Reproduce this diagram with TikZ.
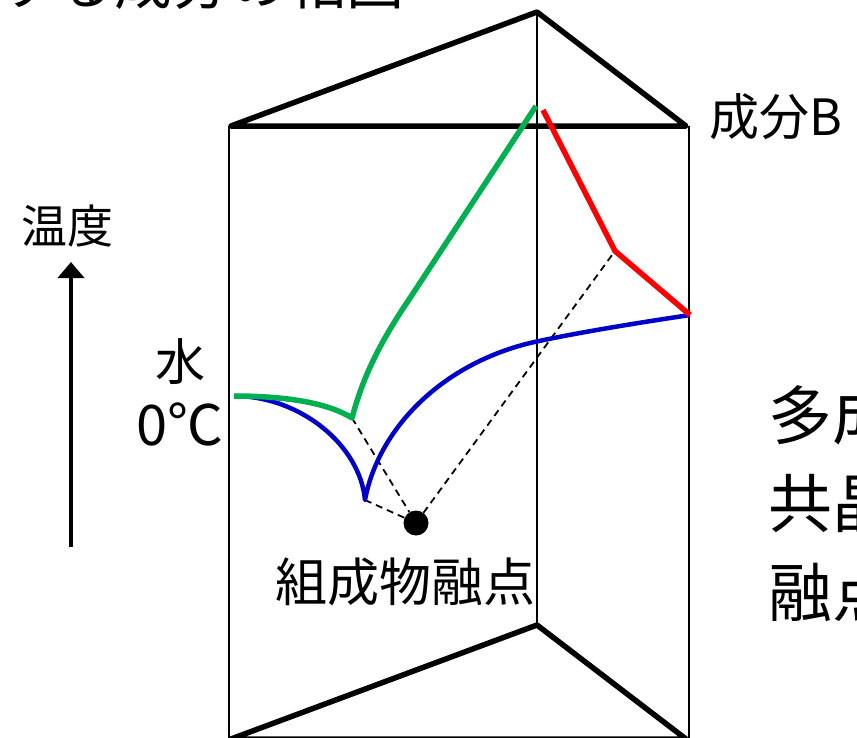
\documentclass[tikz,border=0pt]{standalone}
\usepackage{fontspec}
\setmainfont{Noto Sans CJK JP}
\usetikzlibrary{arrows.meta}
\definecolor{cgreen}{RGB}{0,176,80}
\definecolor{cblue}{RGB}{0,0,200}
\definecolor{cred}{RGB}{255,0,0}
\begin{document}
\begin{tikzpicture}[x=1pt,y=-1pt,
  frame/.style={line width=5.5pt,line cap=round,line join=round},
  edge/.style={line width=2pt},
  liq/.style={line width=4.5pt,line join=round},
  guide/.style={line width=1.8pt,dash pattern=on 7pt off 5pt},
  lbl/.style={inner sep=0pt,anchor=base west}]
\useasboundingbox (0,0) rectangle (857,737);
% prism corners
\coordinate (TL) at (231,126);
\coordinate (TR) at (686,126);
\coordinate (TB) at (537,12);
\coordinate (BL) at (231,739);
\coordinate (BR) at (686,739);
\coordinate (BB) at (537,625);
% vertical edges
\draw[edge] (229,126) -- (229,745);
\draw[edge] (689,126) -- (689,745);
\draw[edge] (TB) -- (BB);
% triangles
\draw[frame] (TL) -- (TB) -- (TR) -- cycle;
\draw[frame] (BL) -- (BB) -- (BR) -- cycle;
% key points
\coordinate (W) at (234,396);
\coordinate (GE) at (352,418);
\coordinate (BE) at (365,500);
\coordinate (GT) at (536,106);
\coordinate (RT) at (543,110);
\coordinate (RK) at (615,251);
\coordinate (RE) at (690,315);
\node[circle,fill=black,minimum size=25pt,inner sep=0pt] (E) at (416,523) {};
% dashed guides
\draw[guide] (GE) -- (E);
\draw[guide] (BE) -- (E);
\draw[guide] (E) -- (RK);
% liquidus curves
\draw[liq,cblue] (W) .. controls (300,396) and (360,445) .. (BE)
  .. controls (378,430) and (440,365) .. (530,343)
  .. controls (570,334) and (630,324) .. (RE);
\draw[liq,cgreen,line width=5.5pt] (W) .. controls (290,396) and (330,404) .. (GE)
  .. controls (362,380) and (378,345) .. (410,298) -- (GT);
\draw[liq,cred,line width=5.5pt] (RT) -- (RK) -- (RE);
% temperature arrow
\coordinate (A0) at (71,547);
\coordinate (A1) at (71,262);
\draw[line width=4pt,-{Triangle[width=26pt,length=16pt]}] (A0) -- (A1);
% labels
\node[lbl,font=\fontsize{58}{60}\selectfont] (title) at (-2,4) {する成分の相図};
\node[lbl,font=\fontsize{46}{50}\selectfont] (temp) at (21,243) {温度};
\node[inner sep=0pt,anchor=base,font=\fontsize{50}{56}\selectfont] (water) at (180,380) {水};
\node[inner sep=0pt,anchor=base east,font=\fontsize{56}{60}\selectfont] (zero) at (224,445) {0℃};
\node[lbl,font=\fontsize{50}{56}\selectfont] (compB) at (709,135) {成分B};
\node[lbl,font=\fontsize{52}{60}\selectfont] (cmp) at (275,601) {組成物融点};
\node[lbl,font=\fontsize{64}{70}\selectfont] (r1) at (768,439) {多成};
\node[lbl,font=\fontsize{64}{70}\selectfont] (r2) at (768,527) {共晶};
\node[lbl,font=\fontsize{64}{70}\selectfont] (r3) at (768,616) {融点};
\end{tikzpicture}
\end{document}
